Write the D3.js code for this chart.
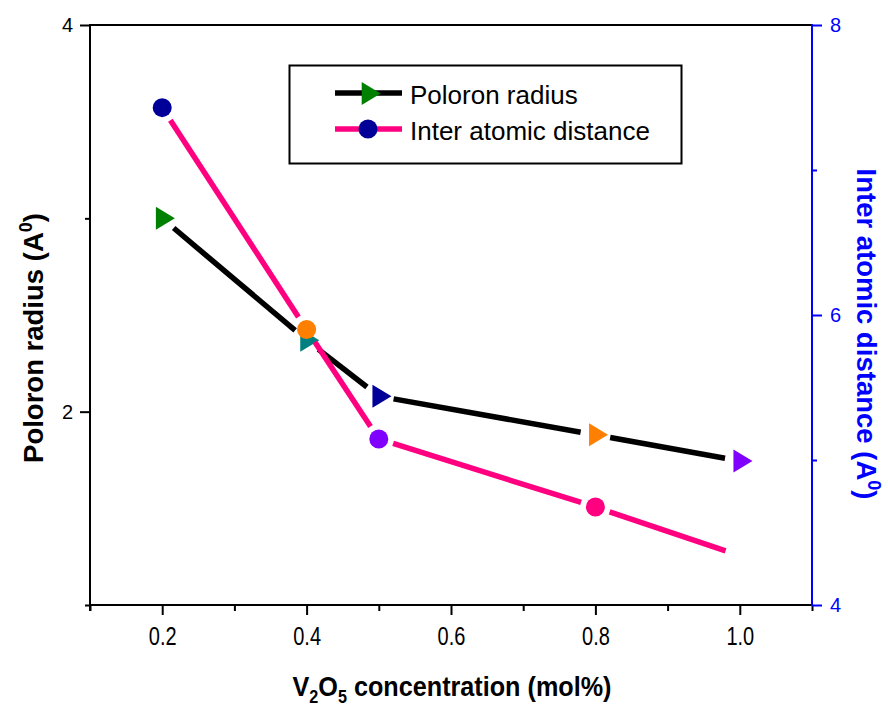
<!DOCTYPE html>
<html><head><meta charset="utf-8">
<script src="https://cdn.jsdelivr.net/npm/d3@7"></script>
<style>body{margin:0;background:#fff}svg{display:block}</style>
</head><body><svg id="c" width="888" height="706"></svg>
<script>
// ---- data ----
const concentrations = [0.2, 0.4, 0.5, 0.8, 1.0];
const polaronRadius = [3.0, 2.37, 2.08, 1.88, 1.745];
const interAtomicDistance = [7.43, 5.90, 5.145, 4.676, 4.34];
const xTickValues = [0.2, 0.4, 0.6, 0.8, 1.0];
const xMinorTicks = [0.1, 0.3, 0.5, 0.7, 0.9, 1.1];
const leftTickValues = [2, 4];
const leftMinorTicks = [1, 3];
const rightTickValues = [4, 6, 8];
const rightMinorTicks = [5, 7];
const seriesNames = ["Poloron radius", "Inter atomic distance"];
// ---- palettes ----
const trianglePalette = ["#008000", "#008080", "#000099", "#ff8000", "#8000ff"];
const circlePalette = ["#000099", "#ff8000", "#8000ff", "#ff0080", null];

const svg = d3.select("#c");
const L = 90, R = 812, T = 25, B = 605;
const x = d3.scaleLinear().domain([0.1, 1.1]).range([L, R]);
const yL = d3.scaleLinear().domain([1, 4]).range([B, T]);
const yR = d3.scaleLinear().domain([4, 8]).range([B, T]);
const BLUE = "#0000ff";
const FONT = "'Liberation Sans', Arial, sans-serif";

function styleAxis(g, color) {
  g.select(".domain").remove();
  g.selectAll("line").attr("stroke", color).attr("stroke-width", 2);
  g.selectAll("text").attr("fill", color).attr("font-family", FONT).attr("font-size", 20);
}

// top border
svg.append("line").attr("x1", L).attr("x2", R).attr("y1", T).attr("y2", T)
  .attr("stroke", "#000").attr("stroke-width", 2);

// bottom axis
const gx = svg.append("g").attr("transform", `translate(0,${B})`)
  .call(d3.axisBottom(x).tickValues(xTickValues).tickSize(10).tickPadding(12).tickFormat(d3.format(".1f")));
styleAxis(gx, "#000");
gx.selectAll("text").attr("font-size", 25).attr("transform", "scale(0.8,1)");
svg.append("g").attr("transform", `translate(0,${B})`)
  .call(d3.axisBottom(x).tickValues(xMinorTicks).tickSize(6).tickFormat(""))
  .call(g => { g.select(".domain").remove(); g.selectAll("line").attr("stroke", "#000").attr("stroke-width", 2); });
svg.append("line").attr("x1", L - 1).attr("x2", R).attr("y1", B).attr("y2", B)
  .attr("stroke", "#000").attr("stroke-width", 2);

// left axis
const gl = svg.append("g").attr("transform", `translate(${L},0)`)
  .call(d3.axisLeft(yL).tickValues(leftTickValues).tickSize(10).tickPadding(7).tickFormat(d3.format("d")));
styleAxis(gl, "#000");
svg.append("g").attr("transform", `translate(${L},0)`)
  .call(d3.axisLeft(yL).tickValues(leftMinorTicks).tickSize(5).tickFormat(""))
  .call(g => { g.select(".domain").remove(); g.selectAll("line").attr("stroke", "#000").attr("stroke-width", 2); });
svg.append("line").attr("x1", L).attr("x2", L).attr("y1", T - 1).attr("y2", B + 6)
  .attr("stroke", "#000").attr("stroke-width", 2);

// right axis
const gr = svg.append("g").attr("transform", `translate(${R},0)`)
  .call(d3.axisRight(yR).tickValues(rightTickValues).tickSize(10).tickPadding(8).tickFormat(d3.format("d")));
styleAxis(gr, BLUE);
svg.append("g").attr("transform", `translate(${R},0)`)
  .call(d3.axisRight(yR).tickValues(rightMinorTicks).tickSize(5).tickFormat(""))
  .call(g => { g.select(".domain").remove(); g.selectAll("line").attr("stroke", BLUE).attr("stroke-width", 2); });
svg.append("line").attr("x1", R).attr("x2", R).attr("y1", T - 1).attr("y2", B + 1)
  .attr("stroke", BLUE).attr("stroke-width", 2);

// ---- series ----
const GAP = 15;
function gappedSegments(pts) {
  const segs = [];
  for (let i = 0; i < pts.length - 1; i++) {
    const [x1, y1] = pts[i], [x2, y2] = pts[i + 1];
    const dx = x2 - x1, dy = y2 - y1, len = Math.hypot(dx, dy);
    const ux = dx / len, uy = dy / len;
    segs.push([[x1 + ux * GAP, y1 + uy * GAP], [x2 - ux * GAP, y2 - uy * GAP]]);
  }
  return segs;
}
const TW = 19, TH = 23;
const triPath = `M${-TW / 3},${-TH / 2}L${-TW / 3},${TH / 2}L${2 * TW / 3},0Z`;
const line = d3.line();

const blackPts = concentrations.map((c, i) => [x(c), yL(polaronRadius[i])]);
const pinkPts = concentrations.map((c, i) => [x(c), yR(interAtomicDistance[i])]);

const g1 = svg.append("g");
g1.selectAll("path.seg").data(gappedSegments(blackPts)).join("path")
  .attr("d", d => line(d)).attr("stroke", "#000").attr("stroke-width", 5.5).attr("fill", "none");
g1.selectAll("path.mk").data(blackPts).join("path")
  .attr("d", triPath).attr("transform", d => `translate(${d[0]},${d[1]})`)
  .attr("fill", (d, i) => trianglePalette[i]);

const g2 = svg.append("g");
g2.selectAll("path.seg").data(gappedSegments(pinkPts)).join("path")
  .attr("d", d => line(d)).attr("stroke", "#ff0080").attr("stroke-width", 5.5).attr("fill", "none");
g2.selectAll("circle").data(pinkPts.filter((d, i) => circlePalette[i])).join("circle")
  .attr("cx", d => d[0]).attr("cy", d => d[1]).attr("r", 9.5)
  .attr("fill", (d, i) => circlePalette[i]);

// ---- legend ----
const lg = svg.append("g");
lg.append("rect").attr("x", 289.5).attr("y", 65.5).attr("width", 392).attr("height", 98)
  .attr("fill", "#fff").attr("stroke", "#000").attr("stroke-width", 2);
lg.append("line").attr("x1", 335).attr("x2", 402).attr("y1", 93).attr("y2", 93)
  .attr("stroke", "#000").attr("stroke-width", 5.5);
lg.append("path").attr("d", triPath).attr("transform", "translate(368,93.5)").attr("fill", trianglePalette[0]);
lg.append("line").attr("x1", 335).attr("x2", 402).attr("y1", 129).attr("y2", 129)
  .attr("stroke", "#ff0080").attr("stroke-width", 5.5);
lg.append("circle").attr("cx", 368).attr("cy", 129).attr("r", 9.5).attr("fill", circlePalette[0]);
lg.selectAll("text").data(seriesNames).join("text")
  .attr("x", 410).attr("y", (d, i) => 104 + i * 35.5)
  .attr("font-family", FONT).attr("font-size", 26).attr("fill", "#000").text(d => d);

// ---- axis titles ----
const xt = svg.append("text").attr("transform", "translate(452,696) scale(0.9,1)").attr("text-anchor", "middle")
  .attr("font-family", FONT).attr("font-weight", "bold").attr("font-size", 28).attr("fill", "#000");
xt.append("tspan").text("V");
xt.append("tspan").attr("dy", 7).attr("font-size", 18).text("2");
xt.append("tspan").attr("dy", -7).text("O");
xt.append("tspan").attr("dy", 7).attr("font-size", 18).text("5");
xt.append("tspan").attr("dy", -7).text(" concentration (mol%)");

const lt = svg.append("text").attr("transform", "translate(43,338) rotate(-90)").attr("text-anchor", "middle")
  .attr("font-family", FONT).attr("font-weight", "bold").attr("font-size", 27.5).attr("fill", "#000");
lt.append("tspan").text("Poloron radius (A");
lt.append("tspan").attr("dy", -11).attr("font-size", 18).text("0");
lt.append("tspan").attr("dy", 11).text(")");

const rt = svg.append("text").attr("transform", "translate(857,334) rotate(90)").attr("text-anchor", "middle")
  .attr("font-family", FONT).attr("font-weight", "bold").attr("font-size", 27.5).attr("fill", BLUE);
rt.append("tspan").text("Inter atomic distance (A");
rt.append("tspan").attr("dy", -11).attr("font-size", 18).text("0");
rt.append("tspan").attr("dy", 11).text(")");
</script>
</body></html>
